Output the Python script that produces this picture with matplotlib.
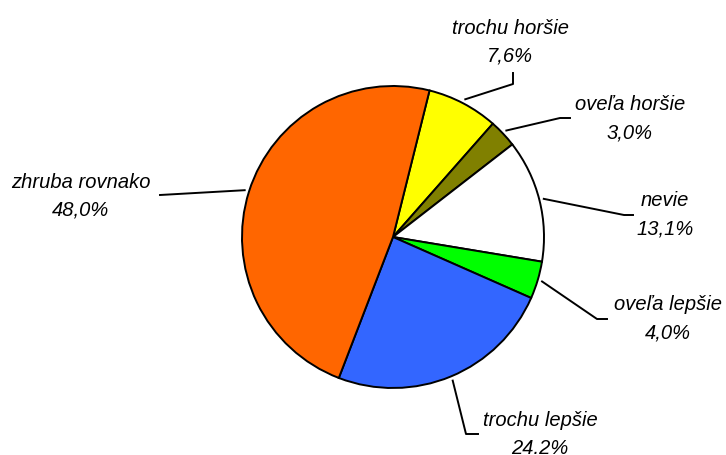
import numpy as np
import matplotlib
matplotlib.use("Agg")
import matplotlib.pyplot as plt

# данные (по часовой стрелке от верхнего края)
labels = ["trochu horšie", "oveľa horšie", "nevie", "oveľa lepšie", "trochu lepšie", "zhruba rovnako"]
values = [7.6, 3.0, 13.1, 4.0, 24.2, 48.0]
value_texts = ["7,6%", "3,0%", "13,1%", "4,0%", "24.2%", "48,0%"]
colors = ["#FFFF00", "#808000", "#FFFFFF", "#00FF00", "#3366FF", "#FF6600"]

W, H = 726, 455
cx, cy, R = 393, 237, 151
start = 76

# положение подписей (центр первой строки) и излома выносной линии, в пикселях
label_pos = [(510, 28), (630, 105), (665, 201), (668, 305), (540, 420), (81, 182)]
elbow = [((513, 84), (513, 73)), ((560, 118), (570, 118)), ((624, 215), (633, 215)),
         ((597, 319), (607, 319)), ((466, 434), (478, 434)), ((160, 195), (160, 195))]

plt.rcParams["font.family"] = ["Liberation Sans", "DejaVu Sans"]

fig = plt.figure(figsize=(W / 100, H / 100), dpi=100)
ax = fig.add_axes([0, 0, 1, 1])

def fy(y):
    return H - y

wedges, _ = ax.pie(values, colors=colors, startangle=start, counterclock=False,
                   center=(cx, fy(cy)), radius=R,
                   wedgeprops=dict(edgecolor="black", linewidth=1.4))

for i, w in enumerate(wedges):
    mid = np.deg2rad((w.theta1 + w.theta2) / 2)
    x0 = cx + 1.03 * R * np.cos(mid)
    y0 = fy(cy) + 1.03 * R * np.sin(mid)
    (ex, ey), (hx, hy) = elbow[i]
    ax.plot([x0, ex, hx], [y0, fy(ey), fy(hy)], color="black", lw=1.4)
    tx, ty = label_pos[i]
    ax.text(tx, fy(ty), labels[i], ha="center", va="center", fontsize=14.5, style="italic")
    ax.text(tx, fy(ty + 28), value_texts[i], ha="center", va="center", fontsize=14.5, style="italic")

ax.set_xlim(0, W)
ax.set_ylim(0, H)
ax.set_aspect("equal")
ax.axis("off")

fig.savefig("out.png", dpi=100)
plt.close(fig)
